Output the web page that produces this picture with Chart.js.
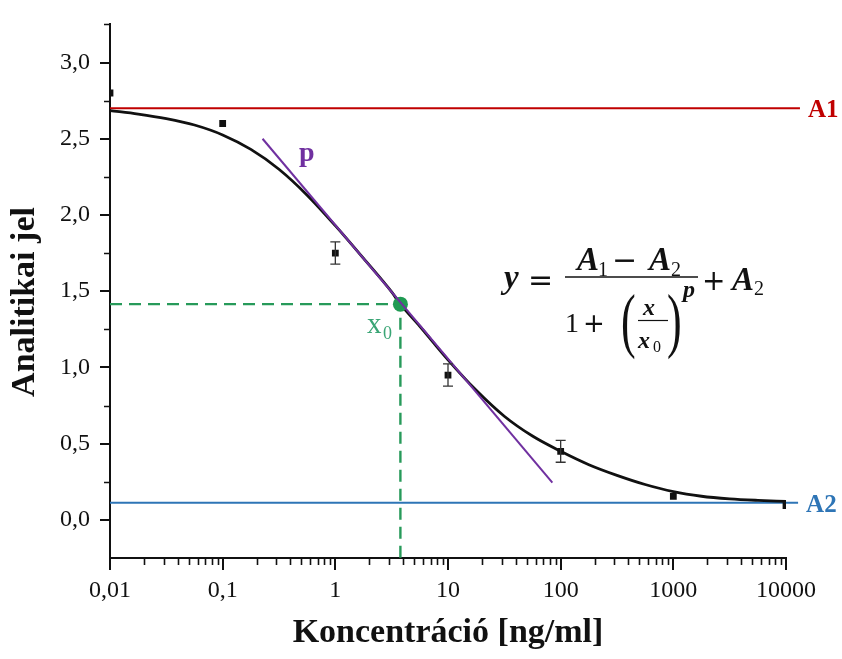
<!DOCTYPE html>
<html>
<head>
<meta charset="utf-8">
<script src="https://cdn.jsdelivr.net/npm/chart.js@4"></script>
<style>
  html, body { margin: 0; padding: 0; background: #ffffff; }
  canvas { display: block; }
</style>
</head>
<body>
<canvas id="chart" width="842" height="659"></canvas>
<script>
// Measured calibration points
const concentrations = [0.01, 0.1, 1, 10, 100, 1000, 10000];
const signal = [2.80, 2.60, 1.75, 0.95, 0.45, 0.154, 0.094];
const signalErr = [0, 0, 0.073, 0.073, 0.072, 0, 0];

// Fitted sigmoid curve, sampled every quarter decade
const fitX = [0.01, 0.0178, 0.0316, 0.0562, 0.1, 0.178, 0.316, 0.562, 1, 1.78, 3.16, 3.78, 5.62,
              10, 17.8, 31.6, 56.2, 100, 178, 316, 562, 1000, 1778, 3162, 5623, 10000];
const fitY = [2.685, 2.662, 2.632, 2.59, 2.525, 2.43, 2.30, 2.13, 1.93, 1.715, 1.495, 1.415, 1.27,
              1.05, 0.85, 0.68, 0.55, 0.45, 0.362, 0.292, 0.232, 0.185, 0.155, 0.138, 0.128, 0.121];

// Fit parameters
const A1 = 2.70;
const A2 = 0.112;
const X0 = 3.78;
const Y0 = 1.415;

// Upper / lower asymptote line extents (x)
const a1LineX = [0.01, 13300];
const a2LineX = [0.01, 12800];

// Slope (p) tangent line through the inflection point
const slopeX = [0.226, 84.4];
const slopeY = [2.50, 0.244];

// Axis ticks
const xTicks = [0.01, 0.1, 1, 10, 100, 1000, 10000];
const xTickLabels = ['0,01', '0,1', '1', '10', '100', '1000', '10000'];
const xMinorFactors = [2, 3, 4, 5, 6, 7, 8, 9];
const yTicks = [0, 0.5, 1, 1.5, 2, 2.5, 3];
const yTickLabels = ['0,0', '0,5', '1,0', '1,5', '2,0', '2,5', '3,0'];
const yMinorTicks = [0.25, 0.75, 1.25, 1.75, 2.25, 2.75, 3.25];

const SERIF = '"Liberation Serif", "Times New Roman", serif';
const AXIS_COLOR = '#111111';
const RED = '#c00000';
const BLUE = '#2e75b6';
const PURPLE = '#7030a0';
const GREEN = '#279a5a';

Chart.defaults.font.family = SERIF;

const pts = (xs, ys) => xs.map((x, i) => ({ x: x, y: ys[i] }));

// Minor tick marks on both axes
const minorTicks = {
  id: 'minorTicks',
  afterDraw(chart) {
    const { ctx, chartArea, scales: { x, y } } = chart;
    ctx.save();
    ctx.strokeStyle = AXIS_COLOR;
    ctx.lineWidth = 1.6;
    ctx.beginPath();
    for (const v of yMinorTicks) {
      const py = Math.round(y.getPixelForValue(v)) + 0.5;
      ctx.moveTo(chartArea.left - 6, py);
      ctx.lineTo(chartArea.left, py);
    }
    for (let i = 0; i < xTicks.length - 1; i++) {
      for (const m of xMinorFactors) {
        const px = Math.round(x.getPixelForValue(xTicks[i] * m)) + 0.5;
        ctx.moveTo(px, chartArea.bottom);
        ctx.lineTo(px, chartArea.bottom + 7);
      }
    }
    ctx.stroke();
    ctx.restore();
  }
};

// Vertical error bars for the measured points
const errorBars = {
  id: 'errorBars',
  afterDatasetsDraw(chart) {
    const { ctx, scales: { x, y } } = chart;
    ctx.save();
    ctx.strokeStyle = '#333333';
    ctx.lineWidth = 1.3;
    ctx.beginPath();
    concentrations.forEach((c, i) => {
      const e = signalErr[i];
      if (!e) return;
      const px = x.getPixelForValue(c);
      const top = y.getPixelForValue(signal[i] + e);
      const bot = y.getPixelForValue(signal[i] - e);
      ctx.moveTo(px, top); ctx.lineTo(px, bot);
      ctx.moveTo(px - 5, top); ctx.lineTo(px + 5, top);
      ctx.moveTo(px - 5, bot); ctx.lineTo(px + 5, bot);
    });
    ctx.stroke();
    ctx.restore();
  }
};

function txt(ctx, s, x, y, font, color, align) {
  ctx.font = font;
  ctx.fillStyle = color;
  ctx.textAlign = align || 'left';
  ctx.fillText(s, x, y);
}

// Labels, axis title and the model equation
const annotations = {
  id: 'annotations',
  afterDraw(chart) {
    const { ctx, scales: { x, y } } = chart;
    ctx.save();
    ctx.textBaseline = 'alphabetic';

    // y-axis title
    ctx.save();
    ctx.translate(25, 302);
    ctx.rotate(-Math.PI / 2);
    ctx.textBaseline = 'middle';
    txt(ctx, 'Analitikai jel', 0, 0, 'bold 34px ' + SERIF, '#111111', 'center');
    ctx.restore();

    // asymptote labels
    ctx.textBaseline = 'middle';
    txt(ctx, 'A1', x.getPixelForValue(a1LineX[1]) + 8, y.getPixelForValue(A1) + 2, 'bold 25px ' + SERIF, RED);
    txt(ctx, 'A2', x.getPixelForValue(a2LineX[1]) + 8, y.getPixelForValue(A2) + 3, 'bold 25px ' + SERIF, BLUE);
    ctx.textBaseline = 'alphabetic';

    // slope label
    txt(ctx, 'p', 299, 161, 'bold 28px ' + SERIF, PURPLE);

    // inflection point label
    txt(ctx, 'x', 367, 333, '29px ' + SERIF, '#3aa575');
    txt(ctx, '0', 383, 339, '18px ' + SERIF, '#3aa575');

    // equation: y = (A1 - A2) / (1 + (x/x0)^p) + A2
    const K = '#111111';
    const BI = 'italic bold ';
    txt(ctx, 'y', 504, 288, BI + '33px ' + SERIF, K);
    txt(ctx, '=', 528, 290, '30px "DejaVu Sans"', K);
    txt(ctx, 'A', 577, 270, BI + '33px ' + SERIF, K);
    txt(ctx, '1', 598, 276, '20px ' + SERIF, K);
    txt(ctx, '\u2212', 612, 270, '30px "DejaVu Sans"', K);
    txt(ctx, 'A', 649, 270, BI + '33px ' + SERIF, K);
    txt(ctx, '2', 671, 276, '20px ' + SERIF, K);

    ctx.strokeStyle = K;
    ctx.lineWidth = 1.5;
    ctx.beginPath();
    ctx.moveTo(565, 277); ctx.lineTo(698, 277);
    ctx.stroke();

    txt(ctx, '1', 565, 332, '28px ' + SERIF, K);
    txt(ctx, '+', 583, 332, '26px "DejaVu Sans"', K);
    ctx.save();
    ctx.translate(621, 344);
    ctx.scale(0.62, 1);
    txt(ctx, '(', 0, 0, '71px ' + SERIF, K);
    ctx.restore();
    txt(ctx, 'x', 643, 315, BI + '24px ' + SERIF, K);
    ctx.lineWidth = 1.2;
    ctx.beginPath();
    ctx.moveTo(638, 320.5); ctx.lineTo(668, 320.5);
    ctx.stroke();
    txt(ctx, 'x', 638, 348, BI + '24px ' + SERIF, K);
    txt(ctx, '0', 653, 352, '16px ' + SERIF, K);
    ctx.save();
    ctx.translate(667, 344);
    ctx.scale(0.62, 1);
    txt(ctx, ')', 0, 0, '71px ' + SERIF, K);
    ctx.restore();
    txt(ctx, 'p', 683, 297, BI + '24px ' + SERIF, K);
    txt(ctx, '+', 702, 290, '28px "DejaVu Sans"', K);
    txt(ctx, 'A', 732, 290, BI + '33px ' + SERIF, K);
    txt(ctx, '2', 754, 295, '20px ' + SERIF, K);

    ctx.restore();
  }
};

new Chart(document.getElementById('chart'), {
  type: 'scatter',
  data: {
    datasets: [
      {
        label: 'Mért pontok',
        data: pts(concentrations, signal),
        pointStyle: 'rect',
        pointRadius: 4.8,
        pointBackgroundColor: '#111111',
        pointBorderWidth: 0,
        showLine: false,
        order: 0
      },
      {
        label: 'p',
        data: pts(slopeX, slopeY),
        showLine: true,
        borderColor: PURPLE,
        borderWidth: 2,
        pointRadius: 0,
        order: 1
      },
      {
        label: 'x0',
        data: [{ x: X0, y: Y0 }],
        pointStyle: 'circle',
        pointRadius: 7.5,
        pointBackgroundColor: '#1f9a52',
        pointBorderWidth: 0,
        showLine: false,
        order: 2
      },
      {
        label: 'Illesztés',
        data: pts(fitX, fitY),
        showLine: true,
        borderColor: '#111111',
        borderWidth: 2.8,
        pointRadius: 0,
        cubicInterpolationMode: 'monotone',
        order: 3
      },
      {
        label: 'x0 segédvonal',
        data: [{ x: 0.01, y: Y0 }, { x: X0, y: Y0 }, { x: X0, y: -0.25 }],
        showLine: true,
        borderColor: GREEN,
        borderWidth: 2.4,
        borderDash: [12, 7],
        pointRadius: 0,
        order: 4
      },
      {
        label: 'A1',
        data: pts(a1LineX, [A1, A1]),
        showLine: true,
        borderColor: RED,
        borderWidth: 2,
        pointRadius: 0,
        clip: false,
        order: 5
      },
      {
        label: 'A2',
        data: pts(a2LineX, [A2, A2]),
        showLine: true,
        borderColor: BLUE,
        borderWidth: 2,
        pointRadius: 0,
        clip: false,
        order: 6
      }
    ]
  },
  options: {
    responsive: false,
    animation: false,
    devicePixelRatio: 1,
    layout: { padding: { top: 18, right: 56, left: 0, bottom: 0 } },
    plugins: {
      legend: { display: false },
      tooltip: { enabled: false }
    },
    scales: {
      x: {
        type: 'logarithmic',
        min: 0.01,
        max: 10000,
        afterBuildTicks: (s) => { s.ticks = xTicks.map(v => ({ value: v })); },
        afterFit: (s) => { s.height = 101; },
        grid: { drawOnChartArea: false, drawTicks: true, tickLength: 12, color: AXIS_COLOR, lineWidth: 2 },
        border: { display: true, color: AXIS_COLOR, width: 2 },
        ticks: {
          autoSkip: false,
          maxRotation: 0,
          padding: 6,
          color: '#111111',
          font: { size: 24, family: SERIF },
          callback: (v, i) => xTickLabels[i]
        },
        title: {
          display: true,
          text: 'Koncentráció [ng/ml]',
          color: '#111111',
          font: { size: 34, weight: 'bold', family: SERIF },
          padding: { top: 0, bottom: 5 }
        }
      },
      y: {
        type: 'linear',
        min: -0.25,
        max: 3.25,
        afterBuildTicks: (s) => { s.ticks = yTicks.map(v => ({ value: v })); },
        afterFit: (s) => { s.width = 110; },
        grid: { drawOnChartArea: false, drawTicks: true, tickLength: 10, color: AXIS_COLOR, lineWidth: 2 },
        border: { display: true, color: AXIS_COLOR, width: 2 },
        ticks: {
          padding: 10,
          color: '#111111',
          font: { size: 24, family: SERIF },
          callback: (v, i) => yTickLabels[i]
        },
        title: { display: false }
      }
    }
  },
  plugins: [minorTicks, errorBars, annotations]
});
</script>
</body>
</html>
